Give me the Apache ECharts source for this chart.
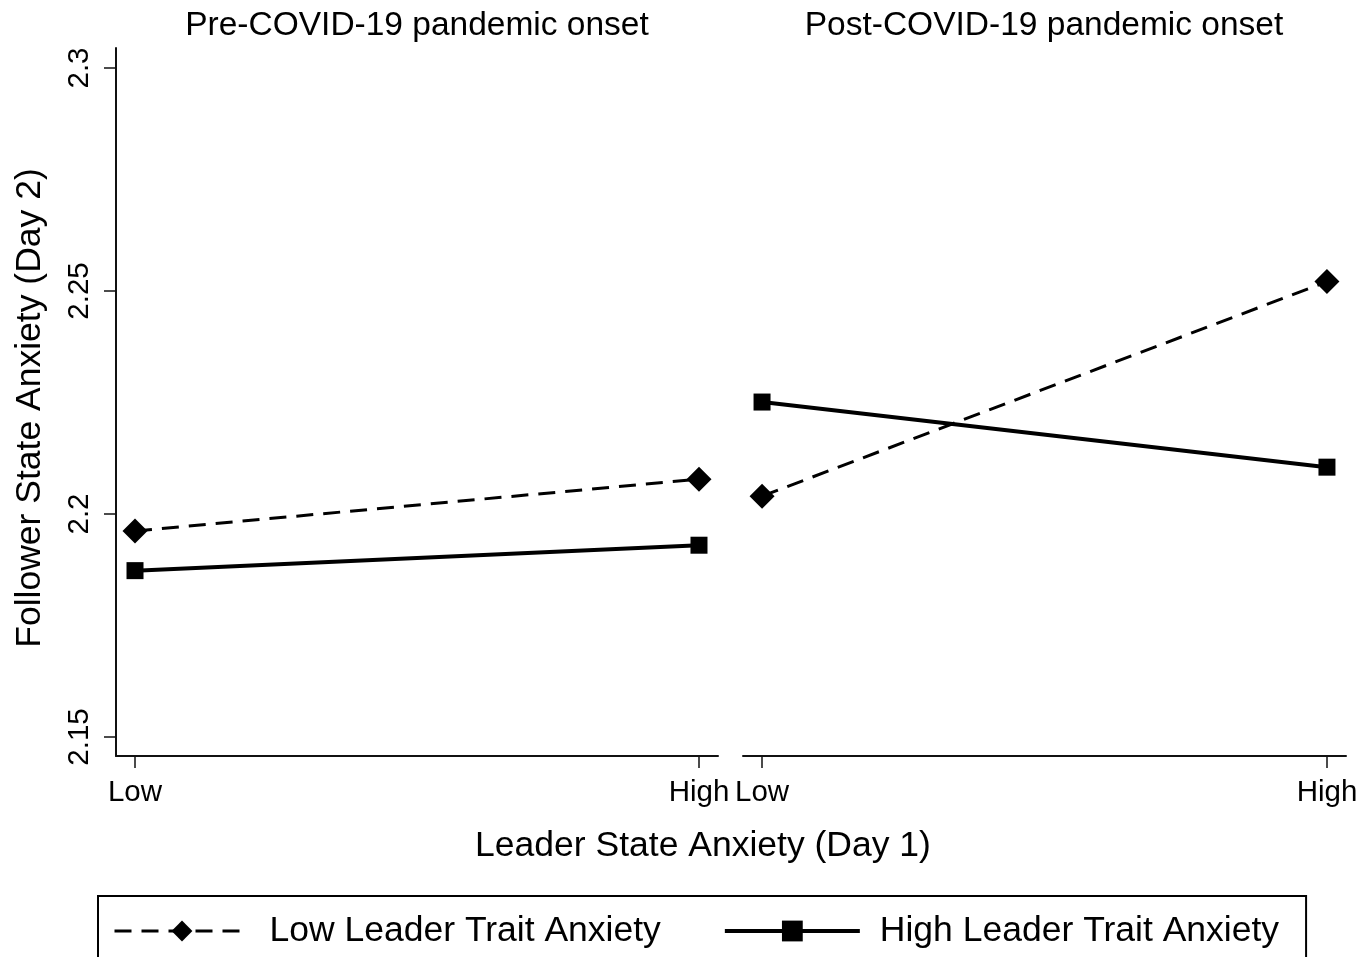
<!DOCTYPE html>
<html>
<head>
<meta charset="utf-8">
<script src="https://cdn.jsdelivr.net/npm/echarts@6/dist/echarts.min.js"></script>
<style>
html,body{margin:0;padding:0;background:#fff;}
#chart{width:1371px;height:957px;}
</style>
</head>
<body>
<div id="chart"></div>
<script>
// ---- data ----
const panelTitles = ['Pre-COVID-19 pandemic onset', 'Post-COVID-19 pandemic onset'];
const categories = ['Low', 'High'];
const seriesNames = ['Low Leader Trait Anxiety', 'High Leader Trait Anxiety'];
const preLowTrait = [2.1962, 2.2078];
const preHighTrait = [2.1873, 2.1930];
const postLowTrait = [2.2040, 2.2521];
const postHighTrait = [2.2251, 2.2105];
const yTicks = [2.15, 2.2, 2.25, 2.3];
const yTickLabels = ['2.15', '2.2', '2.25', '2.3'];
const xTitle = 'Leader State Anxiety (Day 1)';
const yTitle = 'Follower State Anxiety (Day 2)';

const FONT = '"Liberation Sans", Arial, Helvetica, sans-serif';
const chart = echarts.init(document.getElementById('chart'));

function pts(arr) { return arr.map((v, i) => [i, v]); }
const xIdx = categories.map((c, i) => i);

const DASH = [17, 10];

function xAxisDef(gi) {
  return {
    type: 'value', gridIndex: gi, min: -0.0337, max: 1.0337,
    axisLine: { show: true, onZero: false, lineStyle: { color: '#111', width: 2 } },
    axisTick: { show: true, customValues: xIdx, length: 12, lineStyle: { color: '#111', width: 1.5 } },
    axisLabel: { show: true, customValues: xIdx, formatter: v => categories[Math.round(v)], margin: 22,
      color: '#000', fontSize: 29.5, fontFamily: FONT },
    splitLine: { show: false }
  };
}
function yAxisDef(gi, show) {
  return {
    type: 'value', gridIndex: gi, min: 2.14574, max: 2.30448,
    name: show ? yTitle : '', nameLocation: 'middle', nameGap: 68,
    nameTextStyle: { color: '#000', fontSize: 35.5, fontFamily: FONT, padding: [0, 12, 0, 0] },
    axisLine: { show: show, onZero: false, lineStyle: { color: '#111', width: 2 } },
    axisTick: { show: show, customValues: yTicks, length: 12, lineStyle: { color: '#111', width: 1.5 } },
    axisLabel: { show: show, customValues: yTicks, rotate: 90, margin: 21,
      formatter: v => yTickLabels[yTicks.findIndex(t => Math.abs(t - v) < 1e-6)],
      color: '#000', fontSize: 29.5, fontFamily: FONT },
    splitLine: { show: false }
  };
}
function lowSeries(gi, data) {
  return {
    name: seriesNames[0], type: 'line', xAxisIndex: gi, yAxisIndex: gi, data: pts(data),
    symbol: 'diamond', symbolSize: 25, itemStyle: { color: '#000' },
    lineStyle: { color: '#000', width: 3, type: DASH }, animation: false
  };
}
function highSeries(gi, data) {
  return {
    name: seriesNames[1], type: 'line', xAxisIndex: gi, yAxisIndex: gi, data: pts(data),
    symbol: 'rect', symbolSize: 17, itemStyle: { color: '#000' },
    lineStyle: { color: '#000', width: 4, type: 'solid' }, animation: false
  };
}

chart.setOption({
  backgroundColor: '#fff',
  animation: false,
  textStyle: { fontFamily: FONT },
  title: [
    { text: panelTitles[0], left: 417, top: 9, padding: 0, textAlign: 'center',
      textStyle: { fontSize: 33.5, fontWeight: 'normal', color: '#000', fontFamily: FONT } },
    { text: panelTitles[1], left: 1044, top: 9, padding: 0, textAlign: 'center',
      textStyle: { fontSize: 33.5, fontWeight: 'normal', color: '#000', fontFamily: FONT } },
    { text: xTitle, left: 703, top: 828, padding: 0, textAlign: 'center',
      textStyle: { fontSize: 35.5, fontWeight: 'normal', color: '#000', fontFamily: FONT } }
  ],
  legend: {
    data: [
      { name: seriesNames[0], lineStyle: { width: 3, type: DASH }, itemStyle: { color: '#000' } },
      { name: seriesNames[1], lineStyle: { width: 4, type: 'solid' }, itemStyle: { color: '#000' } }
    ],
    left: 98, top: 896, orient: 'horizontal',
    borderColor: '#000', borderWidth: 2, padding: [17, 27, 40, 15],
    itemWidth: 135, itemHeight: 26, itemGap: 62,
    textStyle: { fontSize: 35.5, color: '#000', fontFamily: FONT, padding: [0, 0, 0, 15] }
  },
  grid: [
    { left: 116, top: 48, width: 602, height: 708 },
    { left: 743, top: 48, width: 603, height: 708 }
  ],
  xAxis: [xAxisDef(0), xAxisDef(1)],
  yAxis: [yAxisDef(0, true), yAxisDef(1, false)],
  series: [
    lowSeries(0, preLowTrait), highSeries(0, preHighTrait),
    lowSeries(1, postLowTrait), highSeries(1, postHighTrait)
  ]
});
</script>
</body>
</html>
